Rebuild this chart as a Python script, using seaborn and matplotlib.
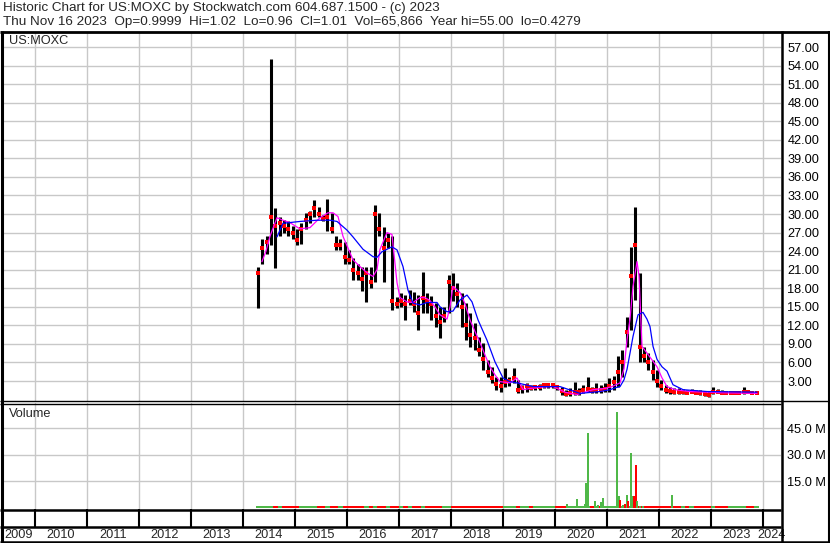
import numpy as np
import pandas as pd
import seaborn as sns
import matplotlib.pyplot as plt

# monthly bars, Apr 2014 .. Nov 2023
months = pd.date_range('2014-04-01', '2023-11-01', freq='MS')
month_x = np.array(months.year + (months.month - 0.5) / 12)

high = [
    21.5, 26.0, 26.5, 55.0, 31.0, 29.5, 29.0, 28.8, 28.0,
    27.5, 28.5, 30.2, 30.5, 32.3, 31.2, 29.9, 32.5, 30.2, 26.4, 26.0, 25.4,
    24.2, 22.9, 22.0, 21.5, 21.5, 21.5, 31.5, 30.2, 27.9, 27.0, 26.4, 16.6,
    17.3, 16.9, 17.7, 17.4, 16.9, 20.7, 17.2, 16.7, 15.6, 15.0, 15.0, 20.2,
    20.5, 18.9, 17.2, 15.6, 14.0, 12.4, 10.1, 9.2, 6.4, 5.3, 3.7, 3.7,
    5.1, 3.7, 5.1, 3.2, 2.4, 2.7, 2.3, 2.4, 2.5, 2.7, 2.6, 2.5,
    2.4, 2.1, 1.6, 1.8, 2.9, 1.8, 2.4, 3.7, 2.1, 2.7, 2.3, 2.6,
    3.5, 3.8, 7.0, 8.0, 13.4, 24.7, 31.2, 20.5, 8.5, 7.5, 6.4, 4.8,
    3.2, 2.4, 2.1, 1.9, 1.8, 1.7, 1.6, 1.7, 1.6, 1.5, 1.4, 1.4,
    2.1, 1.7, 1.5, 1.4, 1.3, 1.3, 1.4, 2.0, 1.6, 1.3, 1.1,
]
low = [
    14.8, 22.0, 23.5, 25.0, 21.2, 26.5, 27.0, 26.5, 26.0,
    25.0, 25.2, 27.5, 28.5, 29.5, 29.5, 28.8, 27.3, 27.0, 24.2, 24.2, 22.0,
    22.0, 19.3, 19.3, 17.5, 15.8, 18.0, 19.0, 26.4, 19.0, 24.5, 14.5, 14.8,
    15.0, 12.9, 15.3, 14.2, 11.3, 14.0, 14.0, 12.9, 11.8, 10.0, 12.5, 14.0,
    16.0, 15.0, 11.8, 9.7, 8.5, 8.0, 7.0, 4.8, 3.7, 2.7, 1.6, 1.3,
    2.0, 2.2, 2.7, 1.1, 1.1, 1.3, 1.6, 1.6, 1.6, 1.9, 1.8, 1.9,
    1.6, 0.8, 0.5, 0.5, 0.8, 0.8, 1.1, 1.3, 1.1, 1.1, 1.1, 1.2,
    1.3, 1.6, 2.1, 3.7, 8.5, 11.3, 16.1, 6.0, 6.1, 4.8, 3.2, 2.1,
    1.6, 1.1, 0.9, 0.9, 0.9, 0.9, 0.9, 1.0, 0.9, 0.8, 0.6, 0.43,
    0.9, 1.0, 1.0, 0.9, 0.9, 0.9, 0.9, 0.9, 1.0, 0.9, 0.96,
]
close = [
    20.5, 24.5, 25.5, 29.5, 28.0, 28.5, 28.0, 27.5, 27.0,
    25.8, 27.5, 29.0, 30.0, 31.0, 30.0, 29.2, 29.5, 27.5, 25.0, 25.0, 23.0,
    22.5, 21.0, 20.5, 19.5, 20.5, 19.0, 30.0, 27.5, 24.5, 25.8, 16.0, 15.5,
    16.0, 15.5, 16.0, 15.5, 14.0, 16.5, 16.0, 15.5, 13.5, 12.5, 13.5, 19.0,
    18.0, 17.0, 15.0, 12.0, 10.5, 10.0, 8.0, 6.5, 4.5, 3.5, 2.5, 2.2,
    2.8, 3.0, 3.5, 1.6, 1.8, 2.2, 1.9, 2.0, 2.1, 2.3, 2.3, 2.3,
    2.0, 1.4, 0.9, 1.0, 1.2, 1.3, 1.5, 1.7, 1.5, 1.6, 1.5, 1.7,
    2.2, 2.8, 4.5, 6.0, 11.0, 20.0, 25.0, 8.5, 7.0, 6.0, 4.5, 3.0,
    2.2, 1.6, 1.4, 1.3, 1.2, 1.2, 1.1, 1.2, 1.1, 1.0, 0.9, 0.8,
    1.3, 1.2, 1.1, 1.0, 1.0, 1.0, 1.0, 1.3, 1.2, 1.0, 1.01,
]
# monthly volume (millions), the thin strip along the bottom
vol_month = [0.9] * 70 + [1.1] * 30 + [0.9] * 16

# single heavy-volume days (year, millions, up day)
spike_x = [2020.231, 2020.423, 2020.577, 2020.606, 2020.635, 2020.769, 2020.827,
           2020.885, 2020.923, 2021.192, 2021.231, 2021.250, 2021.308, 2021.346,
           2021.385, 2021.404, 2021.462, 2021.500, 2021.519, 2021.558, 2021.577,
           2021.635, 2021.692, 2021.750, 2022.250, 2023.019]
spike_m = [2.1, 5.0, 2.5, 14.2, 42.5, 4.2, 1.9, 3.5, 5.9, 54.4, 6.5, 4.4, 1.8, 2.0,
           7.3, 4.0, 30.9, 7.0, 6.5, 24.4, 3.8, 1.2, 1.0, 1.0, 7.1, 1.2]
spike_up = [1, 1, 1, 1, 1, 1, 1, 1, 1, 1, 1, 0, 1, 0, 1, 0, 1, 1, 0, 0, 1, 1, 1, 0, 1, 1]

# moving averages
fast_x = [2014.365, 2014.442, 2014.519, 2014.654, 2014.769, 2014.904, 2015.096, 2015.288,
          2015.481, 2015.635, 2015.731, 2015.827, 2015.923, 2016.019, 2016.115, 2016.250,
          2016.385, 2016.500, 2016.577, 2016.635, 2016.769, 2016.865, 2016.923, 2016.962,
          2017.019, 2017.154, 2017.269, 2017.404, 2017.500, 2017.596, 2017.692, 2017.788,
          2017.923, 2017.981, 2018.038, 2018.173, 2018.269, 2018.365, 2018.462, 2018.558,
          2018.654, 2018.750, 2018.846, 2018.942, 2019.038, 2019.135, 2019.269, 2019.385,
          2019.519, 2019.712, 2019.962, 2020.192, 2020.423, 2020.577, 2020.731, 2020.962,
          2021.096, 2021.250, 2021.327, 2021.385, 2021.442, 2021.500, 2021.577, 2021.615,
          2021.635, 2021.673, 2021.788, 2021.962, 2022.058, 2022.154, 2022.308, 2022.596,
          2023.231, 2023.885]
fast_v = [22.3, 24.0, 26.4, 29.4, 29.0, 28.6, 27.6, 27.8,
          29.4, 30.2, 30.2, 29.6, 26.4, 24.5, 22.6, 21.5,
          20.5, 19.9, 21.0, 24.3, 27.0, 26.7, 22.0, 18.9,
          16.5, 15.8, 15.7, 16.5, 16.5, 16.0, 15.0, 13.7,
          13.0, 15.0, 18.3, 17.3, 15.5, 12.9, 11.0, 9.2,
          7.2, 5.3, 4.0, 2.9, 2.8, 2.7, 3.5, 1.6,
          1.8, 2.0, 2.1, 1.2, 0.8, 1.2, 1.6, 1.8,
          2.1, 2.7, 5.0, 9.7, 13.0, 18.3, 22.3, 20.0,
          16.2, 8.6, 7.3, 5.3, 3.5, 2.1, 1.6, 1.3,
          1.1, 1.0]
slow_x = [2014.654, 2014.769, 2015.096, 2015.423, 2015.673, 2015.808, 2016.000, 2016.115,
          2016.308, 2016.500, 2016.577, 2016.673, 2016.865, 2016.962, 2017.077, 2017.173,
          2017.269, 2017.404, 2017.538, 2017.731, 2017.788, 2017.923, 2018.038, 2018.173,
          2018.308, 2018.404, 2018.519, 2018.692, 2018.846, 2019.000, 2019.135, 2019.327,
          2019.577, 2020.096, 2020.288, 2020.481, 2020.865, 2021.058, 2021.192, 2021.250,
          2021.327, 2021.385, 2021.442, 2021.500, 2021.596, 2021.692, 2021.769, 2021.827,
          2021.885, 2021.962, 2022.058, 2022.154, 2022.269, 2022.462, 2022.923, 2023.885]
slow_v = [26.3, 28.5, 28.8, 29.0, 29.0, 28.8, 27.4, 26.3,
          24.3, 23.1, 23.0, 23.9, 24.7, 24.2, 21.5, 17.7,
          15.6, 15.3, 15.7, 15.7, 15.0, 14.2, 14.3, 16.1,
          16.9, 15.8, 12.9, 9.6, 6.1, 3.5, 2.9, 2.6,
          2.1, 2.1, 1.55, 1.0, 1.3, 1.6, 2.0, 2.1,
          3.2, 4.9, 7.5, 10.2, 13.7, 14.1, 13.0, 11.8,
          8.6, 6.5, 5.3, 4.6, 2.4, 1.6, 1.3, 1.2]

price_ticks = np.arange(3, 58, 3)
vol_ticks = [15, 30, 45]
years = np.arange(2009, 2025)

header1 = "Historic Chart for US:MOXC by Stockwatch.com 604.687.1500 - (c) 2023"
header2 = ("Thu Nov 16 2023  Op=0.9999  Hi=1.02  Lo=0.96  Cl=1.01  "
           "Vol=65,866  Year hi=55.00  lo=0.4279")

# %%
sns.set_theme(style="white")
plt.rcParams['font.family'] = ['Liberation Sans', 'DejaVu Sans']

W, H = 830, 543
fig = plt.figure(figsize=(W / 100, H / 100), dpi=100)
fig.patch.set_facecolor('white')


def box(x0, y0, x1, y1):
    return [x0 / W, 1 - y1 / H, (x1 - x0) / W, (y1 - y0) / H]


x_left, x_right = 2009.385, 2024.346
grid_kw = dict(color='#c8c8c8', lw=1.0)

ax_p = fig.add_axes(box(3, 32, 781, 401))
ax_v = fig.add_axes(box(3, 403, 781, 509))
ax_d = fig.add_axes(box(3, 509, 781, 527))
ax_l = fig.add_axes(box(3, 527, 781, 541))

for ax in (ax_p, ax_v, ax_d, ax_l):
    ax.set_xlim(x_left, x_right)
    ax.set_facecolor('white')
    for s in ax.spines.values():
        s.set_visible(False)
    ax.set_xticks(years[1:])
    ax.tick_params(axis='x', length=0, labelbottom=False)

# price panel
ax_p.set_ylim(-0.23, 59.43)
ax_p.set_axisbelow(True)
ax_p.grid(True, **grid_kw)
ax_p.set_yticks(price_ticks)
ax_p.set_yticklabels([f'{v:.2f}' for v in price_ticks])
ax_p.yaxis.tick_right()
ax_p.tick_params(axis='y', length=0, pad=4.5, labelsize=9.2, labelcolor='black')

ax_p.vlines(month_x, low, high, color='black', lw=2.2, zorder=2)
sns.scatterplot(x=month_x, y=close, ax=ax_p, color='red', marker='s', s=7,
                linewidth=0, zorder=3)
sns.lineplot(x=fast_x, y=fast_v, ax=ax_p, color='#ff00ff', lw=0.9, zorder=4)
sns.lineplot(x=slow_x, y=slow_v, ax=ax_p, color='#0000ff', lw=0.9, zorder=5)
ax_p.set_xlabel('')
ax_p.set_ylabel('')
ax_p.text(0.008, 0.975, 'US:MOXC', transform=ax_p.transAxes, fontsize=9.2,
          va='center', ha='left')

# volume panel
ax_v.set_ylim(-0.56, 59.2)
ax_v.set_axisbelow(True)
ax_v.grid(True, **grid_kw)
ax_v.set_yticks(vol_ticks)
ax_v.set_yticklabels([f'{v:.1f} M' for v in vol_ticks])
ax_v.yaxis.tick_right()
ax_v.tick_params(axis='y', length=0, pad=4.5, labelsize=9.2, labelcolor='black')

up_month = np.r_[True, np.diff(close) >= 0]
ax_v.bar(month_x, vol_month, width=1 / 12, linewidth=0,
         color=np.where(up_month, '#4fb848', '#ff0000'), zorder=2)
ax_v.bar(spike_x, spike_m, width=0.042, linewidth=0,
         color=['#4fb848' if u else '#ff0000' for u in spike_up], zorder=3)
ax_v.text(0.008, 0.9, 'Volume', transform=ax_v.transAxes, fontsize=9.2,
          va='center', ha='left')

# date rows
ax_d.set_ylim(0, 1)
ax_d.set_yticks([])
ax_d.vlines(years[1:], 0, 1, color='black', lw=1.5)
ax_l.set_ylim(0, 1)
ax_l.set_yticks([])
for y in years:
    a, b = max(y, x_left), min(y + 1, x_right)
    ax_l.text((a + b) / 2, 0.45, str(y), fontsize=9.2, ha='center', va='center')

# frame and header
ax_o = fig.add_axes([0, 0, 1, 1], zorder=10)
ax_o.set_xlim(0, W)
ax_o.set_ylim(H, 0)
ax_o.axis('off')
ax_o.patch.set_alpha(0)
line_kw = dict(color='black', solid_capstyle='butt')
ax_o.plot([0, W], [31.5, 31.5], lw=2.0, **line_kw)
ax_o.plot([1.5, 1.5], [31, H], lw=2.2, **line_kw)
ax_o.plot([828.5, 828.5], [31, H], lw=1.5, **line_kw)
ax_o.plot([781.5, 781.5], [31, 542], lw=1.8, **line_kw)
ax_o.plot([0, W], [401.0, 401.0], lw=1.0, **line_kw)
ax_o.plot([0, 781], [403.5, 403.5], lw=1.0, **line_kw)
ax_o.plot([0, 781], [509.5, 509.5], lw=1.8, **line_kw)
ax_o.plot([0, 781], [527.0, 527.0], lw=1.8, **line_kw)
ax_o.plot([0, W], [541.8, 541.8], lw=1.8, **line_kw)
ax_o.text(3, 8.5, header1, fontsize=9.7, va='center', ha='left')
ax_o.text(3, 22.5, header2, fontsize=9.7, va='center', ha='left')

fig.savefig('out.png', dpi=100, facecolor='white')
